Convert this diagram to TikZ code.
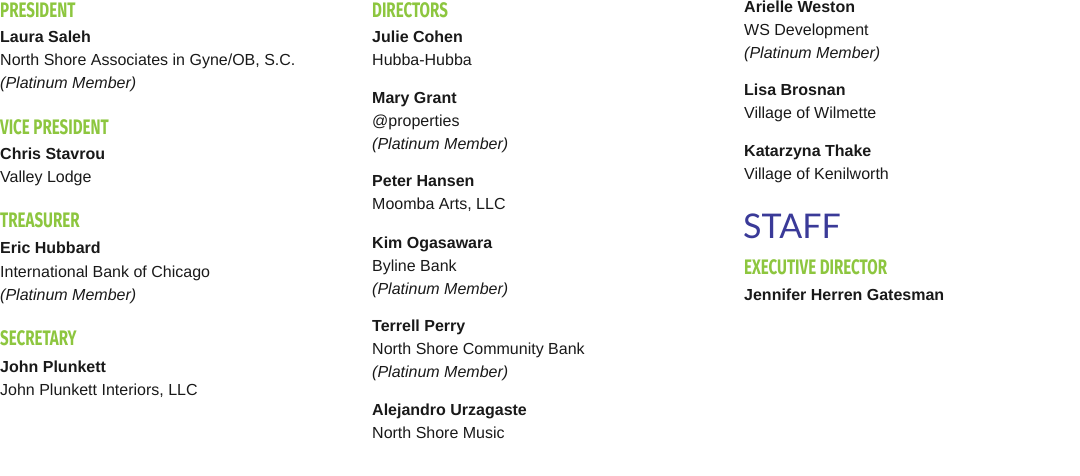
\documentclass[tikz,border=0pt]{standalone}
\usepackage{fontspec}
\setmainfont{Liberation Sans}
\newfontfamily\headfont[FakeStretch=0.72]{Fira Sans}
\newfontfamily\stafffont{Lato}
\definecolor{hgreen}{HTML}{8DC63F}
\definecolor{sblue}{HTML}{3A3A98}
\begin{document}
\begin{tikzpicture}[x=1pt,y=-1pt,
 txt/.style={anchor=base west,inner sep=0pt,font=\fontsize{16}{16}\selectfont,text=black!90},
 nm/.style={txt,font=\fontsize{16}{16}\selectfont\bfseries},
 it/.style={txt,font=\fontsize{16}{16}\selectfont\itshape},
 hd/.style={anchor=base west,inner sep=0pt,font=\fontsize{21}{21}\headfont\bfseries,text=hgreen},
 st/.style={anchor=base west,inner sep=0pt,font=\fontsize{34}{34}\stafffont,text=sblue}]
\useasboundingbox (0,0) rectangle (1080,476);
% column 1
\node[hd] (h1) at (0,18) {PRESIDENT};
\node[nm] (a1) at (0,43) {Laura Saleh};
\node[txt] (a2) at (0,66) {North Shore Associates in Gyne/OB, S.C.};
\node[it] (a3) at (0,89) {(Platinum Member)};
\node[hd] (h2) at (0,135) {VICE PRESIDENT};
\node[nm] (b1) at (0,160) {Chris Stavrou};
\node[txt] (b2) at (0,183) {Valley Lodge};
\node[hd] (h3) at (0,228) {TREASURER};
\node[nm] (c1) at (0,254) {Eric Hubbard};
\node[txt] (c2) at (0,277) {International Bank of Chicago};
\node[it] (c3) at (0,300) {(Platinum Member)};
\node[hd] (h4) at (0,345) {SECRETARY};
\node[nm] (d1) at (0,372) {John Plunkett};
\node[txt] (d2) at (0,395) {John Plunkett Interiors, LLC};
% column 2
\node[hd] (h5) at (372,18) {DIRECTORS};
\node[nm] (e1) at (372,43) {Julie Cohen};
\node[txt] (e2) at (372,66) {Hubba-Hubba};
\node[nm] (f1) at (372,104) {Mary Grant};
\node[txt] (f2) at (372,127) {@properties};
\node[it] (f3) at (372,150) {(Platinum Member)};
\node[nm] (g1) at (372,187) {Peter Hansen};
\node[txt] (g2) at (372,210) {Moomba Arts, LLC};
\node[nm] (i1) at (372,248) {Kim Ogasawara};
\node[txt] (i2) at (372,271) {Byline Bank};
\node[it] (i3) at (372,294) {(Platinum Member)};
\node[nm] (j1) at (372,331) {Terrell Perry};
\node[txt] (j2) at (372,354) {North Shore Community Bank};
\node[it] (j3) at (372,377) {(Platinum Member)};
\node[nm] (k1) at (372,415) {Alejandro Urzagaste};
\node[txt] (k2) at (372,438) {North Shore Music};
% column 3
\node[nm] (l1) at (744,13) {Arielle Weston};
\node[txt] (l2) at (744,36) {WS Development};
\node[it] (l3) at (744,59) {(Platinum Member)};
\node[nm] (m1) at (744,96) {Lisa Brosnan};
\node[txt] (m2) at (744,119) {Village of Wilmette};
\node[nm] (o1) at (744,157) {Katarzyna Thake};
\node[txt] (o2) at (744,180) {Village of Kenilworth};
\node[st] (s1) at (743,238) {STAFF};
\node[hd] (h6) at (744,274) {EXECUTIVE DIRECTOR};
\node[nm] (p1) at (744,300) {Jennifer Herren Gatesman};
\end{tikzpicture}
\end{document}
